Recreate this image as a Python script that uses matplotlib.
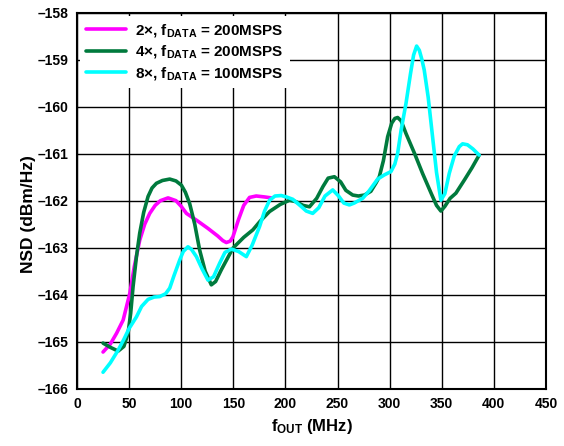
import matplotlib
matplotlib.use("Agg")
import matplotlib.pyplot as plt

plt.rcParams.update({
    "font.family": "Liberation Sans",
    "font.weight": "bold",
    "axes.labelweight": "bold",
    "font.size": 10,
    "mathtext.fontset": "custom",
    "mathtext.rm": "Liberation Sans:bold",
    "mathtext.it": "Liberation Sans:bold",
    "mathtext.bf": "Liberation Sans:bold",
    "mathtext.default": "rm",
})

# 2x interpolation, fDATA = 200 MSPS
f_2x = [25, 32, 38, 44.3, 50.7, 55, 60.2, 65, 69.8, 75, 80, 87.4, 95, 100,
        105, 115, 125.7, 135, 140, 143.3, 147, 149.6, 155, 160, 165.6, 172,
        180, 186.4]
nsd_2x = [-165.22, -165.05, -164.82, -164.54, -163.97, -163.4, -162.84,
          -162.5, -162.27, -162.1, -162.0, -161.94, -162.0, -162.12, -162.27,
          -162.42, -162.59, -162.75, -162.85, -162.89, -162.86, -162.77,
          -162.4, -162.1, -161.93, -161.9, -161.92, -161.94]

# 4x interpolation, fDATA = 200 MSPS
f_4x = [25, 32, 39.5, 45, 49, 51.5, 53.8, 57, 60.2, 64, 68.2, 72, 76.2, 82,
        89, 95, 100.2, 104, 108.1, 113, 117.7, 123, 128.9, 133, 138.5, 149.6,
        160, 168.8, 176, 184.8, 195, 203.9, 210, 217, 223.1, 230, 236, 241,
        247, 253, 258, 264.6, 270, 275.8, 282, 287, 290.1, 294, 298.1, 302,
        305, 307.7, 311, 315.7, 324, 331.6, 340, 345, 349.2, 353, 358, 363.6,
        372, 379, 385.9]
nsd_4x = [-165.03, -165.12, -165.2, -165.1, -164.82, -164.4, -163.83, -163.2,
          -162.69, -162.25, -161.91, -161.73, -161.63, -161.57, -161.54,
          -161.58, -161.67, -161.82, -162.06, -162.5, -163.05, -163.5,
          -163.79, -163.72, -163.47, -163.01, -162.78, -162.62, -162.43,
          -162.23, -162.08, -161.99, -162.02, -162.1, -162.13, -161.95,
          -161.7, -161.52, -161.49, -161.6, -161.78, -161.88, -161.9, -161.88,
          -161.8, -161.62, -161.49, -161.15, -160.64, -160.35, -160.25,
          -160.23, -160.3, -160.57, -161.0, -161.42, -161.85, -162.1, -162.22,
          -162.12, -161.95, -161.84, -161.55, -161.3, -161.03]

# 8x interpolation, fDATA = 100 MSPS
f_8x = [25, 32, 39.5, 45, 50, 57.1, 62, 68.2, 74, 79.4, 85, 89, 93, 98.6,
        102, 106.5, 110, 114.6, 120, 125.7, 131, 136.9, 142, 148.1, 155,
        162.5, 168, 175.2, 180, 184.8, 190, 196, 201, 207.1, 215, 220, 226.2,
        232, 238, 245.4, 251, 256, 261.4, 266, 274.1, 280, 288.5, 295, 301.3,
        305, 307.7, 311, 315.7, 320, 323, 325.9, 328.5, 331, 333.2, 337,
        341.2, 345, 349.2, 353, 357.2, 362, 366.8, 370, 374.7, 380, 385.9]
nsd_8x = [-165.65, -165.45, -165.18, -164.95, -164.72, -164.47, -164.25,
          -164.1, -164.05, -164.04, -163.98, -163.86, -163.6, -163.26,
          -163.08, -162.98, -163.04, -163.19, -163.45, -163.69, -163.62,
          -163.33, -163.1, -163.03, -163.08, -163.19, -162.95, -162.55,
          -162.22, -161.99, -161.9, -161.89, -161.92, -161.97, -162.12,
          -162.22, -162.27, -162.15, -161.9, -161.77, -161.9, -162.05,
          -162.09, -162.05, -161.95, -161.8, -161.54, -161.45, -161.38,
          -161.22, -160.99, -160.5, -159.93, -159.3, -158.9, -158.71, -158.8,
          -159.0, -159.22, -159.8, -160.64, -161.4, -161.99, -161.85,
          -161.42, -161.05, -160.85, -160.79, -160.81, -160.9, -161.03]

x_ticks = [0, 50, 100, 150, 200, 250, 300, 350, 400, 450]
y_ticks = [-166, -165, -164, -163, -162, -161, -160, -159, -158]
y_tick_labels = ["\u2013166", "\u2013165", "\u2013164", "\u2013163", "\u2013162",
                 "\u2013161", "\u2013160", "\u2013159", "\u2013158"]

fig = plt.figure(figsize=(5.64, 4.46), dpi=100)
ax = fig.add_axes([0.1365, 0.1285, 0.8315, 0.843])

line_kw = dict(lw=2.6, solid_joinstyle="round", solid_capstyle="round", zorder=3)
ax.plot(f_2x, nsd_2x, color="#FF00FF", label=r"2×, f$_{DATA}$ = 200MSPS", **line_kw)
ax.plot(f_4x, nsd_4x, color="#007A3D", label=r"4×, f$_{DATA}$ = 200MSPS", **line_kw)
ax.plot(f_8x, nsd_8x, color="#00FFFF", label=r"8×, f$_{DATA}$ = 100MSPS", **line_kw)

ax.set_xlim(0, 450)
ax.set_ylim(-166, -158)
ax.set_xticks(x_ticks)
ax.set_yticks(y_ticks)
ax.set_yticklabels(y_tick_labels)
ax.tick_params(length=0, pad=6, labelsize=10)
ax.grid(color="black", lw=1.0)
ax.set_axisbelow(True)
for s in ax.spines.values():
    s.set_linewidth(1.5)

ax.set_xlabel(r"f$_{OUT}$ (MHz)", fontsize=12, labelpad=4)
ax.set_ylabel("NSD (dBm/Hz)", fontsize=12.5)
ax.yaxis.set_label_coords(-0.088, 0.465)

leg = ax.legend(loc="upper left", fontsize=11, frameon=True, fancybox=False,
                framealpha=1, edgecolor="none", handlelength=2.6,
                borderaxespad=0.2, labelspacing=0.3, handletextpad=0.6)
leg.set_zorder(5)

fig.savefig("out.png", dpi=100)
